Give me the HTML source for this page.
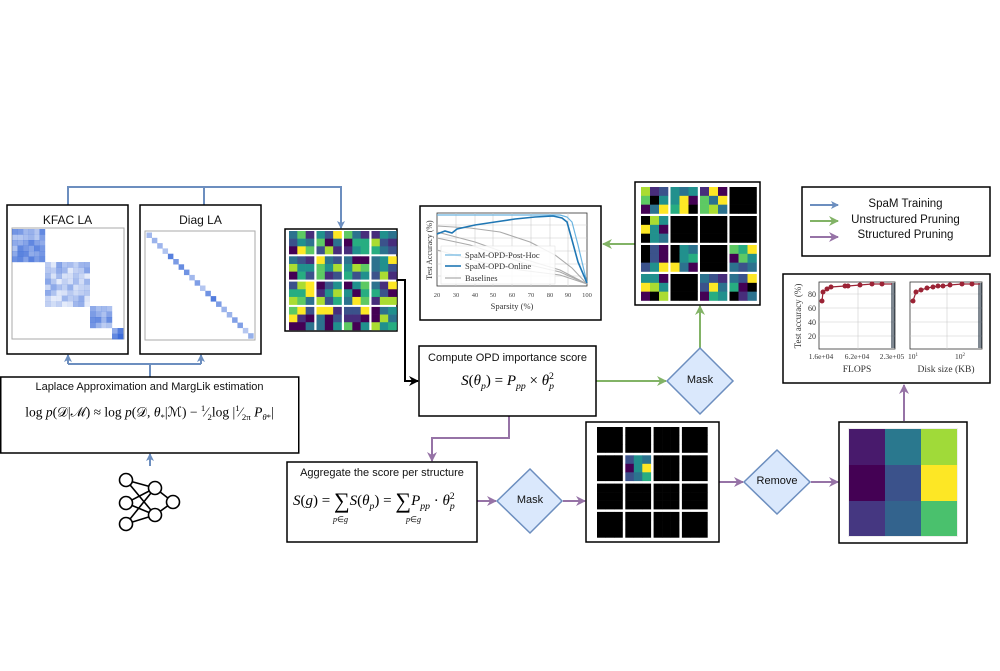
<!DOCTYPE html>
<html><head><meta charset="utf-8">
<style>
html,body{margin:0;padding:0;background:#fff;}
#c{position:relative;width:1000px;height:671px;overflow:hidden;font-family:"Liberation Sans",sans-serif;}
svg{position:absolute;left:0;top:0;}
.t{position:absolute;font-family:"Liberation Sans",sans-serif;color:#111;white-space:nowrap;}
.m{position:absolute;font-family:"Liberation Serif",serif;color:#000;white-space:nowrap;}
.m i{font-style:italic;}
sub,sup{font-size:65%;}
</style></head><body>
<div id="c">
<svg width="1000" height="671" viewBox="0 0 1000 671" xmlns="http://www.w3.org/2000/svg">
<defs>
<marker id="ab" markerWidth="8" markerHeight="8" refX="7" refY="4" orient="auto" markerUnits="userSpaceOnUse"><path d="M0,0 L8,4 L0,8 L2,4 z" fill="#6c8ebf"/></marker>
<marker id="ag" markerWidth="10" markerHeight="10" refX="9" refY="5" orient="auto" markerUnits="userSpaceOnUse"><path d="M0,0 L10,5 L0,10 L3,5 z" fill="#82b366"/></marker>
<marker id="ap" markerWidth="10" markerHeight="10" refX="9" refY="5" orient="auto" markerUnits="userSpaceOnUse"><path d="M0,0 L10,5 L0,10 L3,5 z" fill="#9673a6"/></marker>
<marker id="ak" markerWidth="10" markerHeight="10" refX="9" refY="5" orient="auto" markerUnits="userSpaceOnUse"><path d="M0,0 L10,5 L0,10 L3,5 z" fill="#000"/></marker>
</defs>
<g fill="none" stroke-width="2">
<polyline points="68,205 68,187 341,187 341,228" stroke="#6c8ebf" marker-end="url(#ab)"/>
<line x1="204" y1="187" x2="204" y2="205" stroke="#6c8ebf"/>
<polyline points="150,377 150,364" stroke="#6c8ebf"/>
<polyline points="68,364 201,364" stroke="#6c8ebf"/>
<line x1="68" y1="364" x2="68" y2="355" stroke="#6c8ebf" marker-end="url(#ab)"/>
<line x1="201" y1="364" x2="201" y2="355" stroke="#6c8ebf" marker-end="url(#ab)"/>
<line x1="150" y1="466" x2="150" y2="454" stroke="#6c8ebf" marker-end="url(#ab)"/>
<polyline points="397,280 405,280 405,381 418,381" stroke="#000" marker-end="url(#ak)"/>
<line x1="596" y1="381" x2="666" y2="381" stroke="#82b366" marker-end="url(#ag)"/>
<line x1="700" y1="348" x2="700" y2="306" stroke="#82b366" marker-end="url(#ag)"/>
<line x1="635" y1="244" x2="603" y2="244" stroke="#82b366" marker-end="url(#ag)"/>
<polyline points="509,416 509,438 432,438 432,461" stroke="#9673a6" marker-end="url(#ap)"/>
<line x1="477" y1="501" x2="496" y2="501" stroke="#9673a6" marker-end="url(#ap)"/>
<line x1="563" y1="501" x2="585" y2="501" stroke="#9673a6" marker-end="url(#ap)"/>
<line x1="719" y1="482" x2="743" y2="482" stroke="#9673a6" marker-end="url(#ap)"/>
<line x1="811" y1="482" x2="838" y2="482" stroke="#9673a6" marker-end="url(#ap)"/>
<line x1="904" y1="421" x2="904" y2="385" stroke="#9673a6" marker-end="url(#ap)"/>
</g>
<g fill="#fff" stroke="#000" stroke-width="1.5">
<rect x="7" y="205" width="121" height="149"/>
<rect x="140" y="205" width="121" height="149"/>
<rect x="0.75" y="377" width="298" height="76"/>
<rect x="285" y="229" width="112" height="102"/>
<rect x="420" y="206" width="181" height="114"/>
<rect x="635" y="182" width="125" height="123"/>
<rect x="419" y="346" width="177" height="70"/>
<rect x="802" y="187" width="188" height="69"/>
<rect x="783" y="274" width="207" height="109"/>
<rect x="287" y="462" width="190" height="80"/>
<rect x="586" y="422" width="133" height="120"/>
<rect x="839" y="422" width="128" height="121"/>
</g>
<rect x="12" y="228" width="112" height="111" fill="none" stroke="#aaa" stroke-width="1"/>
<rect x="145" y="231" width="110" height="109" fill="none" stroke="#aaa" stroke-width="1"/>
<g id="kfac"></g><g id="diag"></g>
<g id="g1"></g><g id="g2"></g><g id="g3"></g>
<rect x="848" y="428" width="110" height="109" fill="#eee"/>
<rect x="849" y="429" width="36" height="36" fill="#481a6c"/><rect x="885" y="429" width="36" height="36" fill="#2a788e"/><rect x="921" y="429" width="36" height="36" fill="#a0da39"/>
<rect x="849" y="465" width="36" height="36" fill="#440154"/><rect x="885" y="465" width="36" height="36" fill="#3b528b"/><rect x="921" y="465" width="36" height="36" fill="#fde725"/>
<rect x="849" y="501" width="36" height="35" fill="#453781"/><rect x="885" y="501" width="36" height="35" fill="#33638d"/><rect x="921" y="501" width="36" height="35" fill="#4ac16d"/>
<g fill="#dae8fc" stroke="#6c8ebf" stroke-width="1.5">
<polygon points="700,348 733,381 700,414 667,381"/>
<polygon points="530,469 562,501 530,533 497,501"/>
<polygon points="777,450 810,482 777,514 744,482"/>
</g>
<g stroke-width="2">
<line x1="810" y1="205" x2="838" y2="205" stroke="#6c8ebf" marker-end="url(#ab)"/>
<line x1="810" y1="221" x2="838" y2="221" stroke="#82b366" marker-end="url(#ag)"/>
<line x1="810" y1="237" x2="838" y2="237" stroke="#9673a6" marker-end="url(#ap)"/>
</g>
<g stroke="#000" stroke-width="1.6" fill="none">
<line x1="126" y1="480" x2="155" y2="488"/><line x1="126" y1="480" x2="155" y2="515"/>
<line x1="126" y1="503" x2="155" y2="488"/><line x1="126" y1="503" x2="155" y2="515"/>
<line x1="126" y1="524" x2="155" y2="488"/><line x1="126" y1="524" x2="155" y2="515"/>
<line x1="155" y1="488" x2="173" y2="502"/><line x1="155" y1="515" x2="173" y2="502"/>
<g fill="#fff"><circle cx="126" cy="480" r="6.5"/><circle cx="126" cy="503" r="6.5"/><circle cx="126" cy="524" r="6.5"/><circle cx="155" cy="488" r="6.5"/><circle cx="155" cy="515" r="6.5"/><circle cx="173" cy="502" r="6.5"/></g>
</g>
<g font-family="Liberation Serif,serif" font-size="7" fill="#444">
<rect x="437" y="213" width="150" height="73" fill="#fff" stroke="#333" stroke-width="0.8"/>
<g stroke="#ccc" stroke-width="0.6">
<line x1="456" y1="213" x2="456" y2="286"/><line x1="475" y1="213" x2="475" y2="286"/><line x1="493" y1="213" x2="493" y2="286"/><line x1="512" y1="213" x2="512" y2="286"/><line x1="531" y1="213" x2="531" y2="286"/><line x1="550" y1="213" x2="550" y2="286"/><line x1="568" y1="213" x2="568" y2="286"/>
<line x1="437" y1="225" x2="587" y2="225"/><line x1="437" y1="238" x2="587" y2="238"/><line x1="437" y1="251" x2="587" y2="251"/><line x1="437" y1="264" x2="587" y2="264"/><line x1="437" y1="276" x2="587" y2="276"/>
</g>
<g fill="none" stroke="#aaa" stroke-width="1.1">
<polyline points="437,226 470,228 500,232 530,242 555,255 572,268 587,284"/>
<polyline points="437,238 470,245 500,255 530,265 560,272 587,284"/>
<polyline points="437,250 480,262 520,270 560,275 587,284"/>
<polyline points="437,232 475,242 520,258 560,270 587,284"/>
</g>
<polyline points="437,215 560,215 567,217 572,222 578,245 587,283" fill="none" stroke="#6ab4e0" stroke-width="1.2"/>
<polyline points="437,234 445,231 452,233 457,229 475,225 495,222 515,219 535,217 553,216 562,218 567,222 572,240 578,262 587,283" fill="none" stroke="#1f77b4" stroke-width="1.6"/>
<rect x="441" y="246" width="114" height="38" fill="#fff" fill-opacity="0.85" stroke="#ddd" stroke-width="0.5"/>
<line x1="445" y1="255" x2="461" y2="255" stroke="#6ab4e0" stroke-width="1.2"/>
<line x1="445" y1="266" x2="461" y2="266" stroke="#1f77b4" stroke-width="1.6"/>
<line x1="445" y1="278" x2="461" y2="278" stroke="#aaa" stroke-width="1.2"/>
<text x="465" y="258" font-size="8.5" fill="#333">SpaM-OPD-Post-Hoc</text>
<text x="465" y="269" font-size="8.5" fill="#333">SpaM-OPD-Online</text>
<text x="465" y="281" font-size="8.5" fill="#333">Baselines</text>
<g text-anchor="middle" font-size="6.5"><text x="437" y="297">20</text><text x="456" y="297">30</text><text x="475" y="297">40</text><text x="493" y="297">50</text><text x="512" y="297">60</text><text x="531" y="297">70</text><text x="550" y="297">80</text><text x="568" y="297">90</text><text x="587" y="297">100</text></g>
<text x="512" y="309" text-anchor="middle" font-size="8.5" fill="#333">Sparsity (%)</text>
<text transform="translate(432,250) rotate(-90)" text-anchor="middle" font-size="8" fill="#333">Test Accuracy (%)</text>
</g>
<g font-family="Liberation Serif,serif" fill="#333">
<rect x="819" y="282" width="76" height="67" fill="#fff" stroke="#333" stroke-width="0.8"/>
<rect x="910" y="282" width="72" height="67" fill="#fff" stroke="#333" stroke-width="0.8"/>
<g stroke="#ccc" stroke-width="0.6">
<line x1="858" y1="282" x2="858" y2="349"/><line x1="947" y1="282" x2="947" y2="349"/>
<line x1="819" y1="294" x2="895" y2="294"/><line x1="819" y1="308" x2="895" y2="308"/><line x1="819" y1="322" x2="895" y2="322"/><line x1="819" y1="336" x2="895" y2="336"/>
<line x1="910" y1="294" x2="982" y2="294"/><line x1="910" y1="308" x2="982" y2="308"/><line x1="910" y1="322" x2="982" y2="322"/><line x1="910" y1="336" x2="982" y2="336"/>
</g>
<g stroke="#2b3a4a" stroke-width="1.2"><line x1="892" y1="283" x2="892" y2="348"/><line x1="894" y1="283" x2="894" y2="348"/><line x1="979" y1="283" x2="979" y2="348"/><line x1="981" y1="283" x2="981" y2="348"/></g>
<polyline points="822,301 823,292 827,289 831,287 845,286 848,286 860,285 872,284 882,284 892,284" fill="none" stroke="#9b2335" stroke-width="1.2"/>
<g fill="#9b2335"><circle cx="822" cy="301" r="2.5"/><circle cx="823" cy="292" r="2.5"/><circle cx="827" cy="289" r="2.5"/><circle cx="831" cy="287" r="2.5"/><circle cx="845" cy="286" r="2.5"/><circle cx="848" cy="286" r="2.5"/><circle cx="860" cy="285" r="2.5"/><circle cx="872" cy="284" r="2.5"/><circle cx="882" cy="284" r="2.5"/></g>
<polyline points="913,301 916,292 921,290 927,288 933,287 938,286 943,286 950,285 962,284 972,284 980,284" fill="none" stroke="#9b2335" stroke-width="1.2"/>
<g fill="#9b2335"><circle cx="913" cy="301" r="2.5"/><circle cx="916" cy="292" r="2.5"/><circle cx="921" cy="290" r="2.5"/><circle cx="927" cy="288" r="2.5"/><circle cx="933" cy="287" r="2.5"/><circle cx="938" cy="286" r="2.5"/><circle cx="943" cy="286" r="2.5"/><circle cx="950" cy="285" r="2.5"/><circle cx="962" cy="284" r="2.5"/><circle cx="972" cy="284" r="2.5"/></g>
<g font-size="8" text-anchor="end"><text x="816" y="297">80</text><text x="816" y="311">60</text><text x="816" y="325">40</text><text x="816" y="339">20</text></g>
<g font-size="7.5" text-anchor="middle"><text x="821" y="359">1.6e+04</text><text x="857" y="359">6.2e+04</text><text x="892" y="359">2.3e+05</text><text x="913" y="359">10<tspan font-size="5" dy="-3">1</tspan></text><text x="960" y="359">10<tspan font-size="5" dy="-3">2</tspan></text></g>
<text x="857" y="372" font-size="9.5" text-anchor="middle">FLOPS</text>
<text x="946" y="372" font-size="9.5" text-anchor="middle">Disk size (KB)</text>
<text transform="translate(801,316) rotate(-90)" text-anchor="middle" font-size="9">Test accuracy (%)</text>
</g>
</svg>

<div class="t" style="left:7px;top:213px;width:121px;text-align:center;font-size:12px;">KFAC LA</div>
<div class="t" style="left:140px;top:213px;width:121px;text-align:center;font-size:12px;">Diag LA</div>
<div class="t" style="left:0;top:381px;width:299px;text-align:center;font-size:11px;">Laplace Approximation and MargLik estimation</div>
<div class="m" style="left:0;top:403px;width:299px;text-align:center;font-size:13.5px;">log <i>p</i>(𝒟|ℳ) ≈ log <i>p</i>(𝒟, <i>θ</i><sub>*</sub>|ℳ) − <sup>1</sup>&#8260;<sub>2</sub>log |<sup>1</sup>&#8260;<sub>2π</sub> <i>P</i><sub><i>θ</i>*</sub>|</div>
<div class="t" style="left:419px;top:352px;width:177px;text-align:center;font-size:11px;">Compute OPD importance score</div>
<div class="m" style="left:419px;top:371px;width:177px;text-align:center;font-size:15px;"><i>S</i>(<i>θ<sub>p</sub></i>) = <i>P<sub>pp</sub></i> × <i>θ</i><sub><i>p</i></sub><sup style="margin-left:-5px">2</sup></div>
<div class="t" style="left:287px;top:467px;width:190px;text-align:center;font-size:11px;">Aggregate the score per structure</div>
<div class="m" style="left:293px;top:488px;font-size:15px;"><i>S</i>(<i>g</i>) = <span style="font-size:22px;vertical-align:-3px">∑</span><i>S</i>(<i>θ<sub>p</sub></i>) = <span style="font-size:22px;vertical-align:-3px">∑</span><i>P<sub>pp</sub></i> · <i>θ</i><sub><i>p</i></sub><sup style="margin-left:-5px">2</sup></div>
<div class="m" style="left:333px;top:515px;font-size:8px;"><i>p</i>∈<i>g</i></div>
<div class="m" style="left:406px;top:515px;font-size:8px;"><i>p</i>∈<i>g</i></div>
<div class="t" style="left:667px;top:374px;width:66px;text-align:center;font-size:11px;">Mask</div>
<div class="t" style="left:497px;top:494px;width:66px;text-align:center;font-size:11px;">Mask</div>
<div class="t" style="left:744px;top:475px;width:66px;text-align:center;font-size:11px;">Remove</div>
<div class="t" style="left:843px;top:197px;width:125px;text-align:center;font-size:11.5px;line-height:15.5px;">SpaM Training<br>Unstructured Pruning<br>Structured Pruning</div>
</div>
<script>
var NS="http://www.w3.org/2000/svg";
function R(g,x,y,w,h,f,o){var r=document.createElementNS(NS,"rect");r.setAttribute("x",x);r.setAttribute("y",y);r.setAttribute("width",w);r.setAttribute("height",h);r.setAttribute("fill",f);if(o!=null)r.setAttribute("fill-opacity",o);g.appendChild(r);}
var s=7;function rnd(){s=(s*9301+49297)%233280;return s/233280;}
var C={P:"#440154",p:"#472d7b",B:"#3b528b",T:"#21908d",t:"#2c728e",G:"#5dc963",g:"#aadc32",Y:"#fde725",K:"#000000",n:"#27ad81"};
var keys="PpBTtGgYn";
function grid(id,x0,y0,bw,bh,gx,gy,codes){var g=document.getElementById(id);
 for(var r=0;r<4;r++)for(var c=0;c<4;c++){var code=codes?codes[r*4+c]:null;
  var bx=x0+c*(bw+gx),by=y0+r*(bh+gy);
  for(var i=0;i<3;i++)for(var j=0;j<3;j++){var ch=code?code[i*3+j]:keys[Math.floor(rnd()*9)];
   R(g,bx+j*bw/3,by+i*bh/3,bw/3+0.3,bh/3+0.3,C[ch]);}}}
grid("g1",289,231,25,23,2.5,2.3,null);
var K9="KKKKKKKKK";
grid("g2",641,187,27,26.5,2.5,2.5,["gpBGKTPtY","TtTTYPnYK","pYPGtYGgt",K9,"KgTYTPKTt",K9,K9,K9,"KBPKBPBTY","KTtKTnYtP",K9,"GnYPGTtBt","TTPYgTPKg",K9,"tBpBYtPnT","tBYnPKKpt"]);
grid("g3",597,427,25.5,25.5,2.8,2.8,[K9,K9,K9,K9,K9,"BTtPTYBtn",K9,K9,K9,K9,K9,K9,K9,K9,K9,K9]);
var kg=document.getElementById("kfac");
function blk(x,y,n,sz,base){for(var i=0;i<n;i++)for(var j=0;j<n;j++){R(kg,x+j*sz,y+i*sz,sz+0.2,sz+0.2,"#3a6ad8",base+rnd()*0.5);}}
blk(12,229,6,5.5,0.35);blk(45,262,8,5.6,0.12);blk(90,306,4,5.5,0.3);blk(112,328,2,5.6,0.5);
var dg=document.getElementById("diag");
for(var k=0;k<20;k++){R(dg,146.5+k*5.35,232.5+k*5.3,5.5,5.5,"#3a6ad8",0.3+rnd()*0.6);}
</script>
</body></html>
